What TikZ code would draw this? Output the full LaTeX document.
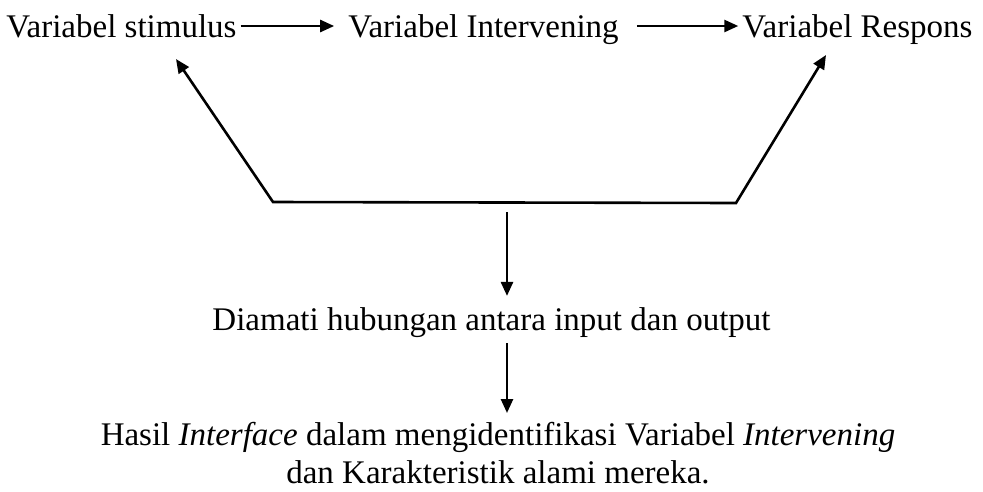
\documentclass[tikz,border=0pt]{standalone}
\usepackage{fontspec}
\setmainfont{Liberation Serif}
\usetikzlibrary{arrows.meta}

\begin{document}
\begin{tikzpicture}[x=1pt,y=-1pt,
    tip/.style={-{Triangle[length=14pt,width=12pt]},line width=2.6pt}]

      \useasboundingbox (0,0) rectangle (983,491);

      \begin{scope}[every node/.style={inner sep=0pt,anchor=base,
          font=\fontsize{33}{35}\selectfont}]
        \node (stim) at (121.5,37) {Variabel stimulus};
        \node (interv) at (483.5,37) {Variabel Intervening};
        \node (resp) at (857.5,37) {Variabel Respons};
        \node (obs) at (491.5,330) {Diamati hubungan antara input dan output};
        \node[align=center,anchor=north] (hasil) at (498,422)
          {Hasil \textit{Interface} dalam mengidentifikasi Variabel \textit{Intervening}\\[3pt]
           dan Karakteristik alami mereka.};
      \end{scope}

      \coordinate (sl) at (176,59);
      \coordinate (bl) at (273,202);
      \coordinate (br) at (736,203);
      \coordinate (sr) at (826,55);
      \coordinate (mid) at (507,212);

      \begin{scope}[every path/.style={tip}]
        \draw[shorten <=4pt,shorten >=14pt] ([yshift=11pt]stim.base east) -- ([yshift=11pt]interv.base west);
        \draw[shorten <=18pt,shorten >=4pt] ([yshift=11pt]interv.base east) -- ([yshift=11pt]resp.base west);
        \draw[{Triangle[length=14pt,width=12pt]}-{Triangle[length=14pt,width=12pt]},line join=miter]
          (sl) -- (bl) -- (br) -- (sr);
        \draw[shorten >=11pt] (mid) -- (mid |- obs.north);
        \draw[shorten <=6pt,shorten >=9pt] (obs.south -| mid) -- (mid |- hasil.north);
      \end{scope}

    \end{tikzpicture}
\end{document}
